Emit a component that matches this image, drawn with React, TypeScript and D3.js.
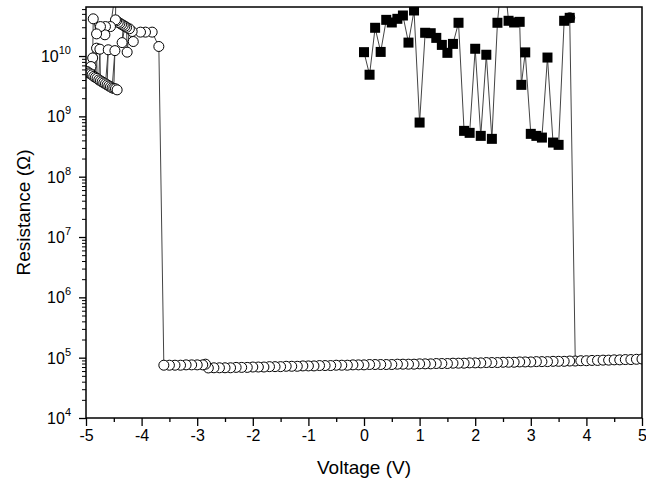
import { useEffect, useRef } from "react"
import * as d3 from "d3"

// filled squares: first sweep 0 V -> 3.7 V (high resistance state)
const squareVoltage = [
    0.0, 0.1, 0.2, 0.3, 0.4, 0.5, 0.6, 0.7, 0.8, 0.9,
    1.0, 1.1, 1.2, 1.3, 1.4, 1.5, 1.6, 1.7, 1.8, 1.9,
    2.0, 2.1, 2.2, 2.3, 2.4, 2.5, 2.6, 2.7, 2.8, 2.83,
    2.9, 3.0, 3.1, 3.2, 3.3, 3.4, 3.5, 3.6, 3.7,
]
const squareResistance = [
    1.16e10, 4.9e9, 2.94e10, 1.17e10, 3.98e10, 3.6e10, 4.14e10, 4.7e10, 1.67e10, 5.69e10,
    7.9e8, 2.43e10, 2.39e10, 2.0e10, 1.53e10, 1.13e10, 1.59e10, 3.56e10, 5.75e8, 5.33e8,
    1.32e10, 4.75e8, 1.05e10, 4.24e8, 3.56e10, 3.3e11, 3.84e10, 3.6e10, 3.69e10, 3.33e9,
    1.15e10, 5.13e8, 4.75e8, 4.45e8, 9.44e9, 3.68e8, 3.37e8, 3.84e10, 4.3e10,
]

// open circles: switch at 3.8 V, low state out to 5 V and back to -3.6 V, reset to high state below
const circleVoltage = [
    3.7,
    3.8, 3.9, 4.0, 4.1, 4.2, 4.3, 4.4, 4.5, 4.6, 4.7, 4.8, 4.9, 5.0,
    3.7, 3.6, 3.5, 3.4, 3.3, 3.2, 3.1, 3.0,
    2.9, 2.8, 2.7, 2.6, 2.5, 2.4, 2.3, 2.2, 2.1, 2.0,
    1.9, 1.8, 1.7, 1.6, 1.5, 1.4, 1.3, 1.2, 1.1, 1.0,
    0.9, 0.8, 0.7, 0.6, 0.5, 0.4, 0.3, 0.2, 0.1, 0.0,
    -0.1, -0.2, -0.3, -0.4, -0.5, -0.6, -0.7, -0.8, -0.9, -1.0,
    -1.1, -1.2, -1.3, -1.4, -1.5, -1.6, -1.7, -1.8, -1.9, -2.0,
    -2.1, -2.2, -2.3, -2.4, -2.5, -2.6, -2.7, -2.8,
    -2.85, -2.9, -3.0, -3.1, -3.2, -3.3, -3.4, -3.5, -3.6,
    -3.69, -3.81, -3.93, -4.02, -4.17, -4.15, -4.22, -4.26, -4.27, -4.30,
    -4.35, -4.33, -4.36, -4.39, -4.42, -4.45, -4.47, -4.46,
    -4.56, -4.65, -4.66, -4.74, -4.81, -4.87, -4.88, -4.91,
    -4.98, -4.95, -4.92, -4.89, -4.86, -4.83, -4.81, -4.80, -4.77, -4.75,
    -4.74, -4.71, -4.68, -4.65, -4.60, -4.62, -4.59, -4.56, -4.53, -4.48,
    -4.50, -4.47, -4.44,
]
const circleResistance = [
    4.3e10,
    8.8e4, 8.9e4, 8.9e4, 9.0e4, 9.0e4, 9.1e4, 9.1e4, 9.2e4, 9.2e4, 9.3e4, 9.3e4, 9.4e4, 9.5e4,
    8.8e4, 8.7e4, 8.7e4, 8.7e4, 8.6e4, 8.6e4, 8.6e4, 8.5e4,
    8.5e4, 8.5e4, 8.4e4, 8.4e4, 8.4e4, 8.3e4, 8.3e4, 8.3e4, 8.2e4, 8.2e4,
    8.2e4, 8.1e4, 8.1e4, 8.1e4, 8.0e4, 8.0e4, 8.0e4, 7.9e4, 7.9e4, 7.9e4,
    7.8e4, 7.8e4, 7.8e4, 7.8e4, 7.7e4, 7.7e4, 7.7e4, 7.7e4, 7.7e4, 7.6e4,
    7.6e4, 7.6e4, 7.5e4, 7.5e4, 7.5e4, 7.4e4, 7.4e4, 7.4e4, 7.3e4, 7.3e4,
    7.3e4, 7.2e4, 7.2e4, 7.2e4, 7.1e4, 7.1e4, 7.1e4, 7.0e4, 7.0e4, 7.0e4,
    6.9e4, 6.9e4, 6.9e4, 6.8e4, 6.8e4, 6.8e4, 6.8e4, 6.75e4,
    7.8e4, 7.6e4, 7.6e4, 7.6e4, 7.6e4, 7.5e4, 7.5e4, 7.5e4, 7.5e4,
    1.44e10, 2.49e10, 2.49e10, 2.49e10, 2.55e10, 1.74e10, 2.83e10, 1.16e10, 2.99e10, 3.11e10,
    1.67e10, 3.23e10, 3.36e10, 3.49e10, 3.62e10, 3.84e10, 3.98e10, 1.35e11,
    3.08e10, 3.08e10, 2.25e10, 3.08e10, 2.33e10, 4.14e10, 9.3e9, 6.7e9,
    5.53e9, 5.26e9, 5.07e9, 4.88e9, 4.6e9, 4.43e9, 1.35e10, 4.27e9, 4.03e9, 1.3e10,
    3.88e9, 3.73e9, 3.59e9, 3.46e9, 1.27e10, 3.33e9, 3.2e9, 3.08e9, 2.97e9, 1.23e10,
    2.91e9, 2.86e9, 2.75e9,
]

const xTicks = [-5, -4, -3, -2, -1, 0, 1, 2, 3, 4, 5]
const xMinorTicks = [-4.5, -3.5, -2.5, -1.5, -0.5, 0.5, 1.5, 2.5, 3.5, 4.5]
const yExponents = [4, 5, 6, 7, 8, 9, 10]

export default function App() {
    const svgRef = useRef<SVGSVGElement>(null)

    useEffect(() => {
        if (!svgRef.current) return
        const svg = d3.select(svgRef.current)
        svg.selectAll("*").remove()

        const left = 86, right = 642, top = 7, bottom = 418
        const font = "Arial, 'Liberation Sans', sans-serif"

        const x = d3.scaleLinear().domain([-5, 5]).range([left, right])
        const y = d3.scaleLog().domain([1e4, 6.5e10]).range([bottom, top])

        svg.append("defs").append("clipPath").attr("id", "plotClip")
            .append("rect")
            .attr("x", left).attr("y", top)
            .attr("width", right - left).attr("height", bottom - top)

        // Axes (ticks outward on bottom and left only)
        const xAxis = svg.append("g")
            .attr("transform", `translate(0,${bottom})`)
            .call(d3.axisBottom(x).tickValues(xTicks).tickSize(8).tickPadding(4).tickSizeOuter(0)
                .tickFormat(d => String(d)))
        xAxis.select(".domain").remove()
        xAxis.selectAll("line").attr("stroke", "#000").attr("stroke-width", 1.3)
        xAxis.selectAll("text").attr("font-family", font).attr("font-size", 16).attr("fill", "#000")

        const xMinor = svg.append("g")
            .attr("transform", `translate(0,${bottom})`)
            .call(d3.axisBottom(x).tickValues(xMinorTicks).tickSize(4).tickFormat(() => "").tickSizeOuter(0))
        xMinor.select(".domain").remove()
        xMinor.selectAll("line").attr("stroke", "#000").attr("stroke-width", 1.3)

        const yMajor = svg.append("g")
            .attr("transform", `translate(${left},0)`)
            .call(d3.axisLeft(y).tickValues(yExponents.map(e => Math.pow(10, e))).tickSize(7)
                .tickFormat(() => "").tickSizeOuter(0))
        yMajor.select(".domain").remove()
        yMajor.selectAll("line").attr("stroke", "#000").attr("stroke-width", 1.3)

        const minorVals: number[] = []
        yExponents.forEach(e => {
            for (let m = 2; m <= 9; m++) {
                const v = m * Math.pow(10, e)
                if (v < y.domain()[1]) minorVals.push(v)
            }
        })
        const yMinor = svg.append("g")
            .attr("transform", `translate(${left},0)`)
            .call(d3.axisLeft(y).tickValues(minorVals).tickSize(4).tickFormat(() => "").tickSizeOuter(0))
        yMinor.select(".domain").remove()
        yMinor.selectAll("line").attr("stroke", "#000").attr("stroke-width", 1)

        // Y tick labels: 10 with superscript exponent
        const yLabels = svg.append("g")
            .selectAll("text")
            .data(yExponents)
            .join("text")
            .attr("x", left - 15)
            .attr("y", e => y(Math.pow(10, e)) + 6)
            .attr("text-anchor", "end")
            .attr("font-family", font)
            .attr("font-size", 16)
            .attr("fill", "#000")
        yLabels.append("tspan").text("10")
        yLabels.append("tspan").attr("dy", -8).attr("font-size", 11).text(e => String(e))

        // Axis titles
        svg.append("text")
            .attr("x", (left + right) / 2)
            .attr("y", 474)
            .attr("text-anchor", "middle")
            .attr("font-family", font)
            .attr("font-size", 19)
            .text("Voltage (V)")

        svg.append("text")
            .attr("transform", `translate(30,${(top + bottom) / 2}) rotate(-90)`)
            .attr("text-anchor", "middle")
            .attr("font-family", font)
            .attr("font-size", 19)
            .text("Resistance (Ω)")

        // Data
        const plot = svg.append("g").attr("clip-path", "url(#plotClip)")
        const line = d3.line<[number, number]>()
            .x(d => x(d[0]))
            .y(d => y(d[1]))

        const circles = circleVoltage.map((v, i) => [v, circleResistance[i]] as [number, number])
        const squares = squareVoltage.map((v, i) => [v, squareResistance[i]] as [number, number])

        plot.append("path").datum(circles)
            .attr("fill", "none").attr("stroke", "#444").attr("stroke-width", 1)
            .attr("d", line)
        plot.append("g").selectAll("circle")
            .data(circles)
            .join("circle")
            .attr("cx", d => x(d[0]))
            .attr("cy", d => y(d[1]))
            .attr("r", 5)
            .attr("fill", "#fff")
            .attr("stroke", "#000")
            .attr("stroke-width", 1)

        plot.append("path").datum(squares)
            .attr("fill", "none").attr("stroke", "#444").attr("stroke-width", 1)
            .attr("d", line)
        plot.append("g").selectAll("rect")
            .data(squares)
            .join("rect")
            .attr("x", d => x(d[0]) - 5)
            .attr("y", d => y(d[1]) - 5)
            .attr("width", 10)
            .attr("height", 10)
            .attr("fill", "#000")

        // Frame
        svg.append("rect")
            .attr("x", left).attr("y", top)
            .attr("width", right - left).attr("height", bottom - top)
            .attr("fill", "none").attr("stroke", "#000").attr("stroke-width", 1.5)
    }, [])

    return (
        <svg
            ref={svgRef}
            width={646}
            height={486}
            style={{ position: "absolute", left: 0, top: 0, background: "#fff" }}
        />
    )
}
